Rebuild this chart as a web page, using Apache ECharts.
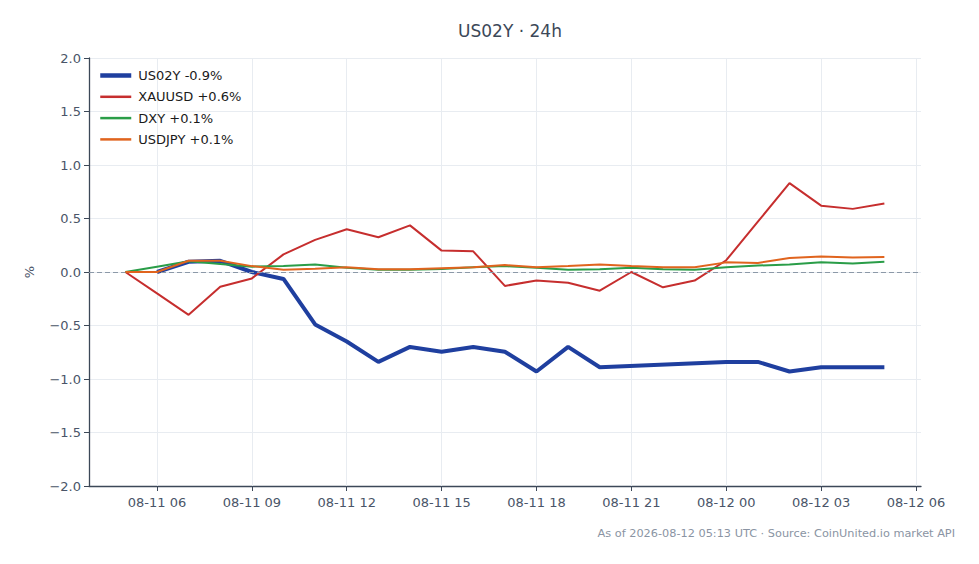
<!DOCTYPE html>
<html>
<head>
<meta charset="utf-8">
<script src="https://cdn.jsdelivr.net/npm/echarts@6/dist/echarts.min.js"></script>
<style>
  html, body { margin: 0; padding: 0; background: #fff; }
  #chart { width: 979px; height: 564px; }
</style>
</head>
<body>
<div id="chart"></div>
<script>
// hours since 2026-08-11 00:00 UTC
var hours = [5, 6, 7, 8, 9, 10, 11, 12, 13, 14, 15, 16, 17, 18, 19, 20, 21, 22, 23, 24, 25, 26, 27, 28, 29];
var xauusd = [0, -0.2, -0.4, -0.137, -0.06, 0.165, 0.3, 0.4, 0.325, 0.436, 0.2, 0.193, -0.13, -0.08, -0.1, -0.175, 0.0, -0.143, -0.08, 0.11, 0.47, 0.83, 0.62, 0.59, 0.64];
var dxy = [0, 0.05, 0.1, 0.075, 0.05, 0.055, 0.07, 0.04, 0.02, 0.02, 0.028, 0.045, 0.055, 0.04, 0.02, 0.025, 0.04, 0.025, 0.02, 0.045, 0.06, 0.07, 0.09, 0.08, 0.095];
var usdjpy = [0, 0.0, 0.105, 0.105, 0.055, 0.02, 0.03, 0.045, 0.025, 0.025, 0.035, 0.045, 0.065, 0.045, 0.055, 0.07, 0.055, 0.045, 0.045, 0.09, 0.085, 0.13, 0.145, 0.135, 0.14];
// US02Y has its own (sparser) timestamps
var us02yHours = [6, 7, 8, 9, 10, 11, 12, 13, 14, 15, 16, 17, 18, 19, 20, 24, 25, 26, 27, 28, 29];
var us02y = [0, 0.096, 0.105, 0.0, -0.065, -0.49, -0.65, -0.84, -0.70, -0.745, -0.70, -0.745, -0.93, -0.70, -0.89, -0.84, -0.84, -0.93, -0.89, -0.89, -0.89];
var seriesNames = ['US02Y -0.9%', 'XAUUSD +0.6%', 'DXY +0.1%', 'USDJPY +0.1%'];
var xTickHours = [6, 9, 12, 15, 18, 21, 24, 27, 30];
var xRange = [3 + 51 / 60, 30 + 9.5 / 60];
var yTicks = [-2.0, 2.0, 0.5];

var ink = '#3c4858';
var muted = '#4a5568';
var rule = '#e8ecf1';
var font = 'DejaVu Sans';

function pairs(hs, vals) {
  return hs.map(function(h, i) { return [h, vals[i]]; });
}
function hourLabel(h) {
  var d = new Date(Date.UTC(2026, 7, 11) + Math.round(h * 3600) * 1000);
  var p = function(n) { return (n < 10 ? '0' : '') + n; };
  return p(d.getUTCMonth() + 1) + '-' + p(d.getUTCDate()) + ' ' + p(d.getUTCHours());
}

var chart = echarts.init(document.getElementById('chart'), null, { renderer: 'svg' });
chart.setOption({
  animation: false,
  textStyle: { fontFamily: font },
  title: {
    text: 'US02Y · 24h',
    left: 505,
    textAlign: 'center',
    top: 17,
    textStyle: { color: ink, fontSize: 17, fontWeight: 'normal', fontFamily: font }
  },
  graphic: [{
    type: 'text',
    right: 24,
    top: 528,
    style: {
      text: 'As of 2026-08-12 05:13 UTC · Source: CoinUnited.io market API',
      fill: '#8a94a3',
      fontSize: 11.3,
      fontFamily: font
    }
  }],
  legend: {
    orient: 'vertical',
    left: 98,
    top: 69,
    padding: 0,
    itemWidth: 31,
    itemHeight: 14,
    itemGap: 8.3,
    itemStyle: { opacity: 0 },
    textStyle: { color: '#1a1a1a', fontSize: 13, fontFamily: font, padding: [0, 0, 0, 2] },
    data: [
      { name: seriesNames[0], lineStyle: { width: 4.5 } },
      { name: seriesNames[1], lineStyle: { width: 2.5 } },
      { name: seriesNames[2], lineStyle: { width: 2.5 } },
      { name: seriesNames[3], lineStyle: { width: 2.5 } }
    ]
  },
  grid: { left: 89, right: 58, top: 58, bottom: 78 },
  xAxis: {
    type: 'value',
    min: xRange[0],
    max: xRange[1],
    axisLine: { onZero: false, lineStyle: { color: '#3c4858', width: 1.3 } },
    axisTick: { show: true, length: 5, customValues: xTickHours, lineStyle: { color: '#3c4858' } },
    axisLabel: {
      color: muted, fontSize: 13, margin: 10, hideOverlap: false,
      customValues: xTickHours,
      formatter: hourLabel
    },
    splitLine: { show: false }
  },
  yAxis: {
    type: 'value',
    min: yTicks[0],
    max: yTicks[1],
    interval: yTicks[2],
    name: '%',
    nameLocation: 'middle',
    nameGap: 53,
    nameRotate: 90,
    nameTextStyle: { color: muted, fontSize: 13 },
    axisLine: { show: true, lineStyle: { color: '#3c4858', width: 1.3 } },
    axisTick: { show: true, length: 5, lineStyle: { color: '#3c4858' } },
    axisLabel: {
      color: muted, fontSize: 13, margin: 8,
      formatter: function(v) { return (v < 0 ? '\u2212' : '') + Math.abs(v).toFixed(1); }
    },
    splitLine: { lineStyle: { color: rule, width: 1 } }
  },
  series: [
    {
      name: seriesNames[0],
      type: 'line',
      data: pairs(us02yHours, us02y),
      symbol: 'none',
      lineStyle: { color: '#1f3f9f', width: 4 },
      itemStyle: { color: '#1f3f9f' },
      z: 3,
      markLine: {
        silent: true,
        symbol: 'none',
        label: { show: false },
        lineStyle: { color: '#8c99a8', type: [5, 3], width: 1 },
        data: [{ yAxis: 0 }]
      }
    },
    {
      name: seriesNames[1],
      type: 'line',
      data: pairs(hours, xauusd),
      symbol: 'none',
      lineStyle: { color: '#c62e2e', width: 2 },
      itemStyle: { color: '#c62e2e' },
      z: 4,
      // vertical grid lines at the x ticks
      markLine: {
        silent: true,
        symbol: 'none',
        label: { show: false },
        z: 1,
        lineStyle: { color: rule, type: 'solid', width: 1 },
        data: xTickHours.map(function(h) { return { xAxis: h }; })
      }
    },
    {
      name: seriesNames[2],
      type: 'line',
      data: pairs(hours, dxy),
      symbol: 'none',
      lineStyle: { color: '#2a9d48', width: 2 },
      itemStyle: { color: '#2a9d48' },
      z: 5
    },
    {
      name: seriesNames[3],
      type: 'line',
      data: pairs(hours, usdjpy),
      symbol: 'none',
      lineStyle: { color: '#e0641e', width: 2 },
      itemStyle: { color: '#e0641e' },
      z: 6
    }
  ]
});
</script>
</body>
</html>
